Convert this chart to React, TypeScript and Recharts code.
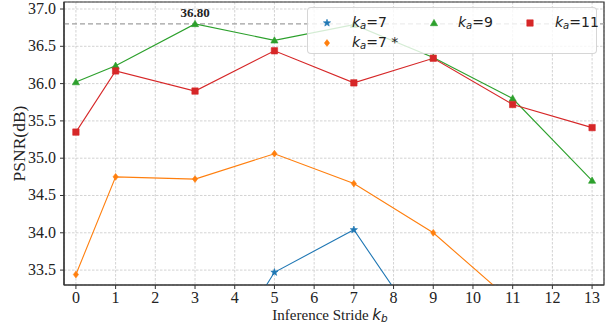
import React from "react";
import {
  LineChart,
  Line,
  XAxis,
  YAxis,
  CartesianGrid,
  ReferenceLine,
  ReferenceArea,
  ReferenceDot,
} from "recharts";

const strides = [0, 1, 3, 5, 7, 9, 11, 13];
const ka7 = [null, null, 31.77, 33.47, 34.04, 32.48, null, null];
const ka7star = [33.44, 34.75, 34.72, 35.06, 34.66, 34.0, 33.07, null];
const ka9 = [36.02, 36.24, 36.8, 36.58, 36.79, 36.35, 35.8, 34.7];
const ka11 = [35.35, 36.17, 35.9, 36.44, 36.01, 36.34, 35.72, 35.41];
const xTicks = [0, 1, 2, 3, 4, 5, 6, 7, 8, 9, 10, 11, 12, 13];
const yTicks = [33.5, 34.0, 34.5, 35.0, 35.5, 36.0, 36.5, 37.0];
const bestValue = 36.8;
const bestStride = 3;

const data = strides.map((x, i) => ({
  x,
  ka7: ka7[i],
  ka7star: ka7star[i],
  ka9: ka9[i],
  ka11: ka11[i],
}));

const BLUE = "#1f77b4";
const ORANGE = "#ff7f0e";
const GREEN = "#2ca02c";
const RED = "#d62728";
const SERIF = "'Liberation Serif', 'Times New Roman', serif";
const SANS = "'DejaVu Sans', sans-serif";

function markerPath(type: string, cx: number, cy: number): string {
  if (type === "square") {
    const s = 3.2;
    return `M${cx - s},${cy - s}H${cx + s}V${cy + s}H${cx - s}Z`;
  }
  if (type === "triangle") {
    const s = 3.6;
    return `M${cx},${cy - s}L${cx + s},${cy + s * 0.75}L${cx - s},${cy + s * 0.75}Z`;
  }
  if (type === "diamond") {
    const w = 2.6;
    const h = 3.4;
    return `M${cx},${cy - h}L${cx + w},${cy}L${cx},${cy + h}L${cx - w},${cy}Z`;
  }
  const R = 3.8;
  const r = 1.6;
  let d = "";
  for (let k = 0; k < 10; k++) {
    const rad = k % 2 === 0 ? R : r;
    const a = -Math.PI / 2 + (k * Math.PI) / 5;
    d += (k === 0 ? "M" : "L") + (cx + rad * Math.cos(a)).toFixed(2) + "," + (cy + rad * Math.sin(a)).toFixed(2);
  }
  return d + "Z";
}

const makeDot = (type: string, color: string) => (props: any) => {
  const { cx, cy, value, index } = props;
  if (value === null || value === undefined || cx == null || cy == null) {
    return <g key={`d-${type}-${index}`} />;
  }
  return <path key={`d-${type}-${index}`} d={markerPath(type, cx, cy)} fill={color} stroke={color} strokeWidth={0.6} />;
};

const legendItems = [
  { type: "star", color: BLUE, label: "7", extra: "", x: 19, y: 15, tx: 44 },
  { type: "triangle", color: GREEN, label: "9", extra: "", x: 126, y: 15, tx: 150 },
  { type: "square", color: RED, label: "11", extra: "", x: 222, y: 15, tx: 247 },
  { type: "diamond", color: ORANGE, label: "7", extra: " *", x: 19, y: 35, tx: 44 },
];

const LegendBox = () => (
  <div
    style={{
      position: "absolute",
      left: 307,
      top: 7,
      width: 290,
      height: 47,
      background: "rgba(255,255,255,0.8)",
      border: "1px solid rgba(204,204,204,0.8)",
      borderRadius: 4,
      boxSizing: "border-box",
      fontFamily: SANS,
      fontSize: 14,
      color: "#222",
    }}
  >
    <svg width={290} height={47} style={{ position: "absolute", left: 0, top: 0 }}>
      {legendItems.map((it, i) => (
        <path key={i} d={markerPath(it.type, it.x, it.y)} fill={it.color} stroke={it.color} strokeWidth={0.6} />
      ))}
    </svg>
    {legendItems.map((it, i) => (
      <div
        key={i}
        style={{ position: "absolute", left: it.tx, top: it.y - 10, whiteSpace: "nowrap", lineHeight: "18px" }}
      >
        <i>k</i>
        <sub style={{ fontSize: 10, fontStyle: "italic", verticalAlign: "-2px" }}>a</sub>={it.label}
        {it.extra}
      </div>
    ))}
  </div>
);

const BestLabel = (props: any) => {
  const { viewBox } = props;
  const cx = viewBox.x + (viewBox.width || 0) / 2;
  const cy = viewBox.y;
  return (
    <text x={cx} y={cy - 7} textAnchor="middle" fontFamily={SERIF} fontWeight="bold" fontSize={13} fill="#222">
      36.80
    </text>
  );
};

const XTick = (p: any) => (
  <text x={p.x} y={303} textAnchor="middle" fontFamily={SERIF} fontSize={16} fill="#222">
    {p.payload.value}
  </text>
);

const YTick = (p: any) => (
  <text x={p.x - 2} y={p.y + 5} textAnchor="end" fontFamily={SERIF} fontSize={16} fill="#222">
    {Number(p.payload.value).toFixed(1)}
  </text>
);

export default function App() {
  return (
    <div style={{ position: "absolute", left: 0, top: 0, width: 609, height: 323, background: "#fff" }}>
      <LineChart width={609} height={323} data={data} margin={{ top: 2, right: 5, bottom: 0, left: 0 }}>
        <CartesianGrid stroke="#c8c8c8" strokeDasharray="2.5 1.5" strokeWidth={0.8} />
        <XAxis
          dataKey="x"
          type="number"
          domain={[-0.3, 13.3]}
          ticks={xTicks}
          interval={0}
          allowDataOverflow
          height={38}
          tickSize={4}
          tick={<XTick />}
          stroke="#333"
          axisLine={{ stroke: "#333", strokeWidth: 1.2 }}
          label={{
            value: "Inference Stride",
            position: "insideBottom",
            offset: 0,
            content: (p: any) => {
              const vb = p.viewBox;
              const cx = vb.x + vb.width / 2 - 4;
              return (
                <text x={cx} y={319.5} textAnchor="middle" fontFamily={SERIF} fontSize={15} fill="#222">
                  Inference Stride{" "}
                  <tspan fontFamily={SANS} fontStyle="italic" fontSize={15}>k</tspan>
                  <tspan fontFamily={SANS} fontStyle="italic" fontSize={10.5} dy={2.5}>b</tspan>
                </text>
              );
            },
          }}
        />
        <YAxis
          type="number"
          domain={[33.3, 37.094]}
          ticks={yTicks}
          interval={0}
          allowDataOverflow
          width={64}
          tickSize={4}
          tick={<YTick />}
          stroke="#333"
          axisLine={{ stroke: "#333", strokeWidth: 1.2 }}
          label={{
            value: "PSNR(dB)",
            angle: -90,
            position: "insideLeft",
            content: (p: any) => {
              const vb = p.viewBox;
              const cy = vb.y + vb.height / 2;
              return (
                <text x={25} y={cy} transform={`rotate(-90, 25, ${cy})`} textAnchor="middle" fontFamily={SERIF} fontSize={17.5} fill="#222">
                  PSNR(dB)
                </text>
              );
            },
          }}
        />
        <ReferenceLine y={bestValue} stroke="#a0a0a0" strokeDasharray="5 3" strokeWidth={1.2} />
        <Line dataKey="ka7" stroke={BLUE} strokeWidth={1.1} dot={makeDot("star", BLUE)} isAnimationActive={false} />
        <Line dataKey="ka7star" stroke={ORANGE} strokeWidth={1.1} dot={makeDot("diamond", ORANGE)} isAnimationActive={false} />
        <Line dataKey="ka9" stroke={GREEN} strokeWidth={1.1} dot={makeDot("triangle", GREEN)} isAnimationActive={false} />
        <Line dataKey="ka11" stroke={RED} strokeWidth={1.1} dot={makeDot("square", RED)} isAnimationActive={false} />
        <ReferenceDot x={bestStride} y={bestValue} r={0} fill="none" stroke="none" label={<BestLabel />} />
        <ReferenceArea x1={-0.3} x2={13.3} y1={33.3} y2={37.094} fill="none" stroke="#333" strokeWidth={1.2} ifOverflow="visible" />
      </LineChart>
      <LegendBox />
    </div>
  );
}
